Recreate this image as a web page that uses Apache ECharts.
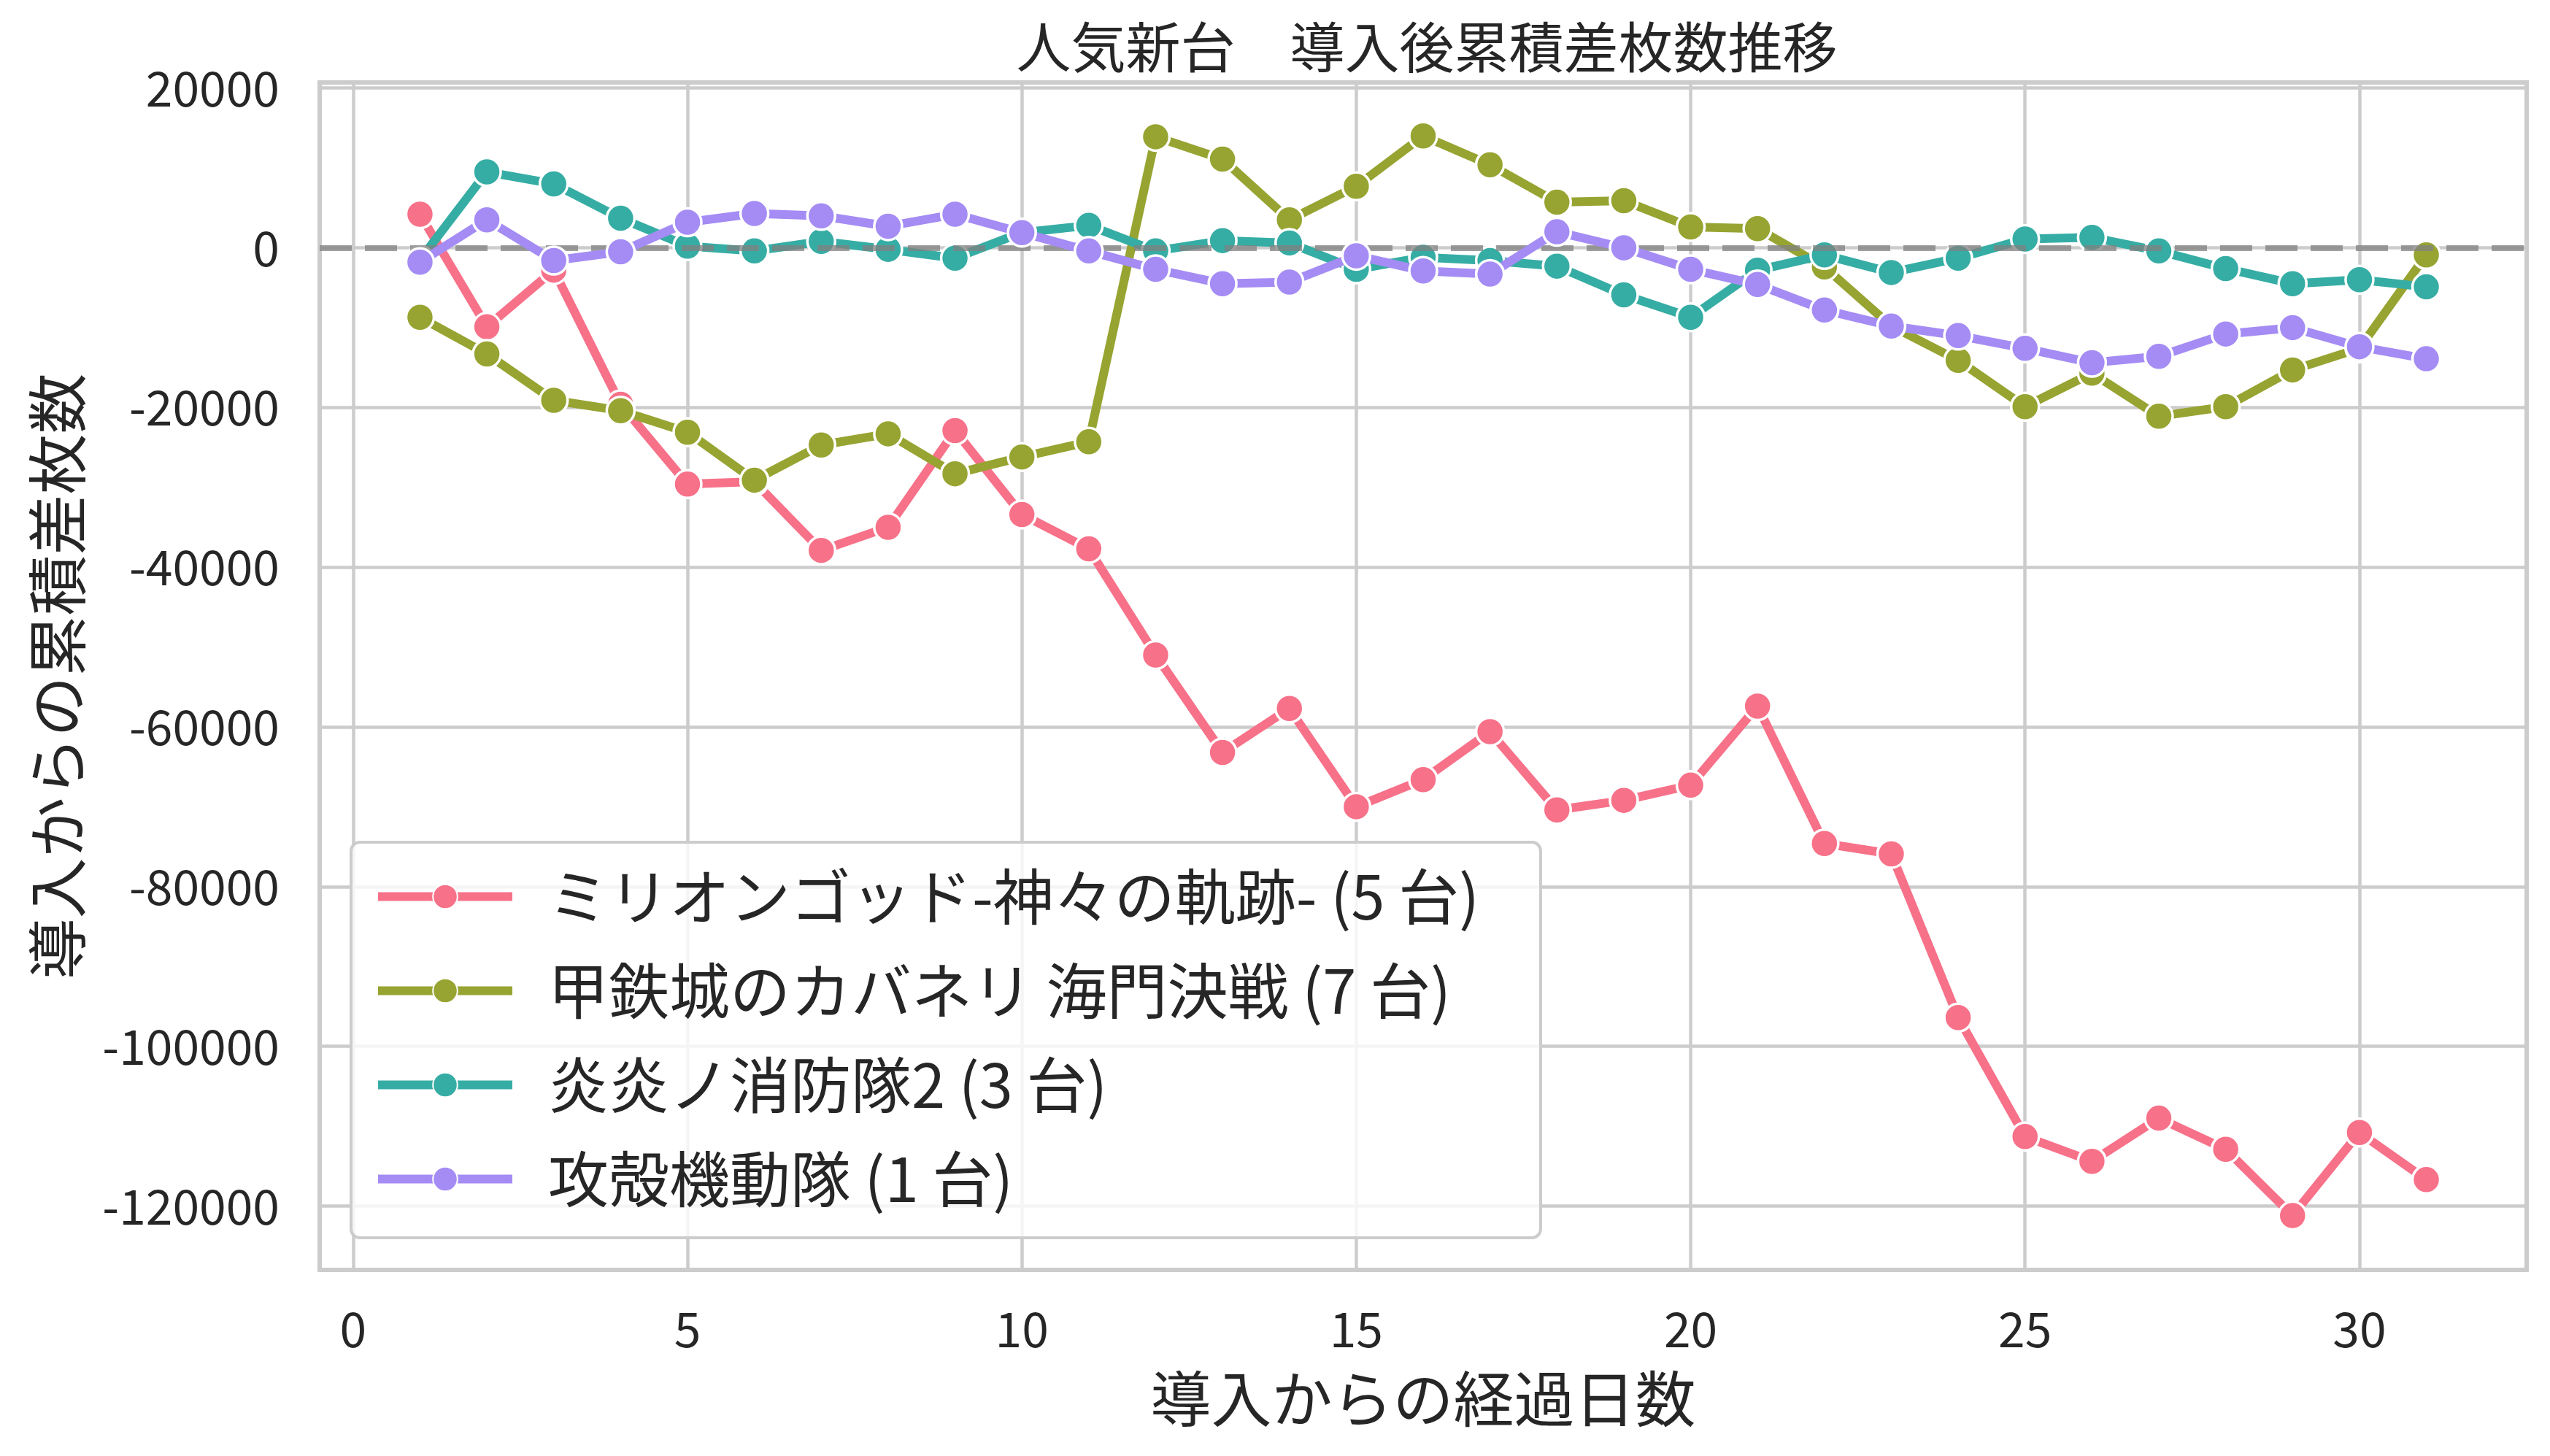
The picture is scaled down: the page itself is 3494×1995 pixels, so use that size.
<!DOCTYPE html>
<html>
<head>
<meta charset="utf-8">
<script src="https://cdn.jsdelivr.net/npm/echarts@6/dist/echarts.min.js"></script>
<style>
  html, body { margin: 0; padding: 0; background: #fff; }
  #chart { width: 3494px; height: 1995px; }
</style>
</head>
<body>
<div id="chart"></div>
<script>
const days = [1, 2, 3, 4, 5, 6, 7, 8, 9, 10, 11, 12, 13, 14, 15, 16, 17, 18, 19, 20, 21, 22, 23, 24, 25, 26, 27, 28, 29, 30, 31];

const millionGod = [4200, -9900, -2800, -19600, -29600, -29300, -37900, -35000, -22900, -33400, -37700,
  -51000, -63200, -57700, -70000, -66600, -60600, -70400, -69200, -67300, -57400,
  -74600, -75900, -96400, -111300, -114400, -109000, -112900, -121200, -110800, -116700];
const kabaneri = [-8700, -13300, -19100, -20400, -23100, -29100, -24700, -23300, -28300, -26200, -24300,
  13900, 11100, 3500, 7700, 14000, 10400, 5700, 5900, 2600, 2400,
  -2400, -9800, -14100, -19900, -15700, -21100, -19900, -15300, -12600, -900];
const enen = [-1500, 9500, 8000, 3700, 200, -400, 800, -200, -1300, 1900, 2800,
  -400, 900, 600, -2700, -1200, -1600, -2300, -5900, -8700, -2800,
  -900, -3100, -1300, 1100, 1300, -400, -2600, -4500, -4000, -4900];
const kokaku = [-1800, 3500, -1600, -500, 3200, 4300, 4000, 2700, 4200, 1900, -400,
  -2700, -4500, -4300, -1000, -2900, -3300, 2000, 0, -2700, -4600,
  -7800, -9800, -11000, -12600, -14400, -13600, -10800, -10000, -12400, -13900];

const seriesNames = [
  'ミリオンゴッド-神々の軌跡- (5 台)',
  '甲鉄城のカバネリ 海門決戦 (7 台)',
  '炎炎ノ消防隊2 (3 台)',
  '攻殻機動隊 (1 台)'
];
const seriesValues = [millionGod, kabaneri, enen, kokaku];
const colors = ['#f77189', '#97a431', '#36ada4', '#a48cf4'];

const xTicks = [0, 5, 10, 15, 20, 25, 30];
const yTicks = [-120000, -100000, -80000, -60000, -40000, -20000, 0, 20000];

const FONT = '"Noto Sans CJK JP", "Noto Sans", sans-serif';
const TEXT = '#262626';

const chart = echarts.init(document.getElementById('chart'), null, { renderer: 'canvas' });

const series = seriesValues.map((vals, i) => ({
  name: seriesNames[i],
  type: 'line',
  data: days.map((d, j) => [d, vals[j]]),
  symbol: 'circle',
  symbolSize: 38,
  showSymbol: true,
  lineStyle: { width: 12, color: colors[i] },
  itemStyle: { color: colors[i], borderColor: '#ffffff', borderWidth: 3.5 },
  z: 2 + i
}));

// zero reference line (drawn over the series, like axhline)
series.push({
  name: 'zero',
  type: 'line',
  data: [],
  z: 10,
  markLine: {
    silent: true,
    symbol: 'none',
    label: { show: false },
    lineStyle: { color: 'rgba(128,128,128,0.75)', width: 8, type: [44, 18] },
    data: [{ yAxis: 0 }]
  }
});

chart.setOption({
  animation: false,
  backgroundColor: '#ffffff',
  title: {
    text: '人気新台　導入後累積差枚数推移',
    left: 1950,
    textAlign: 'center',
    top: 22,
    textStyle: { fontFamily: FONT, fontSize: 75, fontWeight: 'normal', color: TEXT }
  },
  grid: {
    left: 438, right: 32, top: 113, bottom: 255,
    show: true,
    borderColor: '#cccccc',
    borderWidth: 6,
    backgroundColor: 'transparent'
  },
  legend: {
    data: seriesNames,
    orient: 'vertical',
    left: 481,
    top: 1154,
    itemWidth: 184,
    itemHeight: 42,
    itemGap: 46,
    padding: [33, 84, 39, 31],
    backgroundColor: 'rgba(255,255,255,0.8)',
    borderColor: '#cccccc',
    borderWidth: 4,
    borderRadius: 12,
    lineStyle: { width: 12 },
    textStyle: { fontFamily: FONT, fontSize: 83, color: TEXT, padding: [0, 0, 0, 44] }
  },
  xAxis: {
    type: 'value',
    min: -0.5,
    max: 32.5,
    name: '導入からの経過日数',
    nameLocation: 'middle',
    nameGap: 135,
    nameTextStyle: { fontFamily: FONT, fontSize: 83, color: TEXT },
    axisLine: { show: false },
    axisTick: { show: false, customValues: xTicks },
    axisLabel: {
      customValues: xTicks,
      fontFamily: FONT, fontSize: 66, color: TEXT, margin: 48,
      formatter: v => String(v)
    },
    splitLine: { show: true, lineStyle: { color: '#cccccc', width: 4.5 } }
  },
  yAxis: {
    type: 'value',
    min: -128000,
    max: 20700,
    name: '導入からの累積差枚数',
    nameLocation: 'middle',
    nameGap: 318,
    nameTextStyle: { fontFamily: FONT, fontSize: 83, color: TEXT },
    axisLine: { show: false },
    axisTick: { show: false, customValues: yTicks },
    axisLabel: {
      customValues: yTicks,
      fontFamily: FONT, fontSize: 66, color: TEXT, margin: 55,
      formatter: v => String(v)
    },
    splitLine: { show: true, lineStyle: { color: '#cccccc', width: 4.5 } }
  },
  series: series
});

window.addEventListener('resize', () => {
  if (chart) {
    chart.resize();
  }
});
</script>
</body>
</html>
